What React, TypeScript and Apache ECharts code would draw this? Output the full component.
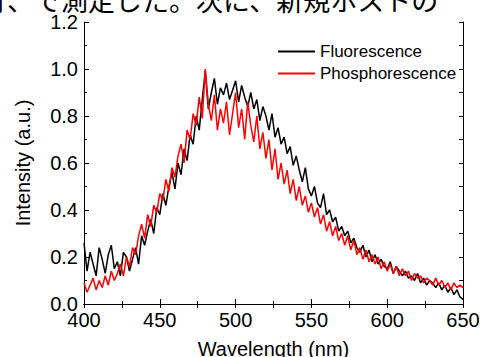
import React, { useEffect, useRef } from "react";
import * as echarts from "echarts";

const WL_START = 400;
const WL_STEP = 2;

const fluorescence = [
  0.26, 0.14, 0.22, 0.17, 0.12, 0.24, 0.19, 0.13, 0.21, 0.25, 0.15, 0.18, 0.12, 0.22, 0.20, 0.14,
  0.19, 0.24, 0.17, 0.29, 0.25, 0.31, 0.36, 0.30, 0.41, 0.38,
  0.47, 0.42, 0.50, 0.56, 0.49, 0.60, 0.55, 0.66, 0.61, 0.72,
  0.68, 0.80, 0.74, 0.87, 0.99, 0.83, 0.90, 0.96, 0.85, 0.92,
  0.89, 0.94, 0.87, 0.91, 0.95, 0.86, 0.93, 0.88, 0.84, 0.90,
  0.83, 0.87, 0.78, 0.84, 0.80, 0.74, 0.81, 0.71, 0.75, 0.68,
  0.71, 0.64, 0.67, 0.59, 0.63, 0.57, 0.52, 0.58, 0.49, 0.46,
  0.50, 0.43, 0.41, 0.47, 0.38, 0.40, 0.35, 0.37, 0.31, 0.33,
  0.29, 0.31, 0.26, 0.28, 0.24, 0.22, 0.25, 0.20, 0.23, 0.18,
  0.21, 0.17, 0.19, 0.16, 0.15, 0.18, 0.13, 0.16, 0.14, 0.12,
  0.14, 0.11, 0.12, 0.10, 0.13, 0.09, 0.11, 0.08, 0.10, 0.09,
  0.07, 0.09, 0.06, 0.08, 0.05, 0.07, 0.04, 0.06, 0.03, 0.02,
];

const phosphorescence = [
  0.09, 0.05, 0.08, 0.11, 0.06, 0.10, 0.07, 0.12, 0.08, 0.14, 0.10, 0.13, 0.17, 0.12, 0.20, 0.16,
  0.24, 0.21, 0.29, 0.34, 0.28, 0.38, 0.33, 0.42, 0.39, 0.47,
  0.44, 0.53, 0.48, 0.58, 0.54, 0.63, 0.68, 0.60, 0.74, 0.70,
  0.81, 0.76, 0.88, 0.79, 1.00, 0.85, 0.78, 0.89, 0.74, 0.83,
  0.77, 0.86, 0.72, 0.81, 0.90, 0.75, 0.83, 0.70, 0.86, 0.76,
  0.69, 0.80, 0.66, 0.73, 0.62, 0.70, 0.57, 0.66, 0.53, 0.60,
  0.51, 0.57, 0.47, 0.53, 0.44, 0.50, 0.42, 0.46, 0.39, 0.43,
  0.37, 0.41, 0.34, 0.38, 0.31, 0.35, 0.29, 0.33, 0.27, 0.30,
  0.25, 0.29, 0.23, 0.27, 0.21, 0.24, 0.19, 0.23, 0.18, 0.21,
  0.17, 0.20, 0.15, 0.18, 0.14, 0.17, 0.13, 0.16, 0.12, 0.15,
  0.12, 0.14, 0.10, 0.13, 0.11, 0.12, 0.09, 0.11, 0.10, 0.08,
  0.11, 0.08, 0.10, 0.07, 0.09, 0.06, 0.09, 0.07, 0.08, 0.07,
];

const seriesNames = ["Fluorescence", "Phosphorescence"];
const headerText = "行、で測定した。次に、新規ホストの";

const FONT = "Arial, 'Liberation Sans', Helvetica, sans-serif";

export default function App() {
  const ref = useRef<HTMLDivElement>(null);
  useEffect(() => {
    document.body.style.margin = "0";
    if (!ref.current) return;
    const chart = echarts.init(ref.current, undefined, { renderer: "svg" });
    const toPairs = (vals: number[]) => vals.map((v, i) => [WL_START + i * WL_STEP, v]);
    const axisLine = { show: true, lineStyle: { color: "#000", width: 1 } };
    chart.setOption({
      animation: false,
      backgroundColor: "#fff",
      grid: {
        left: 84,
        right: 17,
        top: 22,
        bottom: 53,
        containLabel: false,
        outerBoundsMode: "none",
      },
      graphic: [
        {
          type: "text",
          left: -20,
          top: -14,
          style: { text: headerText, font: `27px 'Noto Sans CJK JP'`, fill: "#000" },
        },
      ],
      legend: {
        orient: "vertical",
        left: 273,
        top: 38,
        itemWidth: 37,
        itemHeight: 2,
        itemGap: 5,
        icon: "rect",
        textStyle: { fontFamily: FONT, fontSize: 17, color: "#000" },
        data: seriesNames,
      },
      xAxis: [
        {
          type: "value",
          min: 400,
          max: 650,
          interval: 50,
          name: "Wavelength (nm)",
          nameLocation: "middle",
          nameGap: 35,
          nameTextStyle: { fontFamily: FONT, fontSize: 20, color: "#000" },
          axisLine,
          axisTick: { show: true, inside: true, length: 5, lineStyle: { color: "#000" } },
          minorTick: { show: true, splitNumber: 2, length: 3, lineStyle: { color: "#000" } },
          axisLabel: { fontFamily: FONT, fontSize: 20, color: "#000", margin: 6 },
          splitLine: { show: false },
        },
        {
          type: "value",
          position: "top",
          min: 400,
          max: 650,
          interval: 25,
          axisLine,
          axisTick: { show: true, inside: true, length: 4, lineStyle: { color: "#000" } },
          axisLabel: { show: false },
          splitLine: { show: false },
        },
      ],
      yAxis: [
        {
          type: "value",
          min: 0,
          max: 1.2,
          interval: 0.2,
          name: "Intensity (a.u.)",
          nameLocation: "middle",
          nameGap: 51,
          nameTextStyle: { fontFamily: FONT, fontSize: 20, color: "#000" },
          axisLine,
          axisTick: { show: true, inside: true, length: 5, lineStyle: { color: "#000" } },
          minorTick: { show: true, splitNumber: 2, length: 3, lineStyle: { color: "#000" } },
          axisLabel: {
            fontFamily: FONT,
            fontSize: 20,
            color: "#000",
            margin: 6,
            formatter: (v: number) => v.toFixed(1),
          },
          splitLine: { show: false },
        },
        {
          type: "value",
          position: "right",
          min: 0,
          max: 1.2,
          interval: 0.1,
          axisLine,
          axisTick: { show: true, inside: true, length: 4, lineStyle: { color: "#000" } },
          axisLabel: { show: false },
          splitLine: { show: false },
        },
      ],
      series: [
        {
          name: seriesNames[0],
          type: "line",
          data: toPairs(fluorescence),
          showSymbol: false,
          symbol: "none",
          itemStyle: { color: "#000" },
          lineStyle: { color: "#000", width: 1.5 },
        },
        {
          name: seriesNames[1],
          type: "line",
          data: toPairs(phosphorescence),
          showSymbol: false,
          symbol: "none",
          itemStyle: { color: "#ff0000" },
          lineStyle: { color: "#ff0000", width: 1.5 },
        },
      ],
    });
    return () => chart.dispose();
  }, []);
  return <div ref={ref} style={{ width: 480, height: 357 }} />;
}
